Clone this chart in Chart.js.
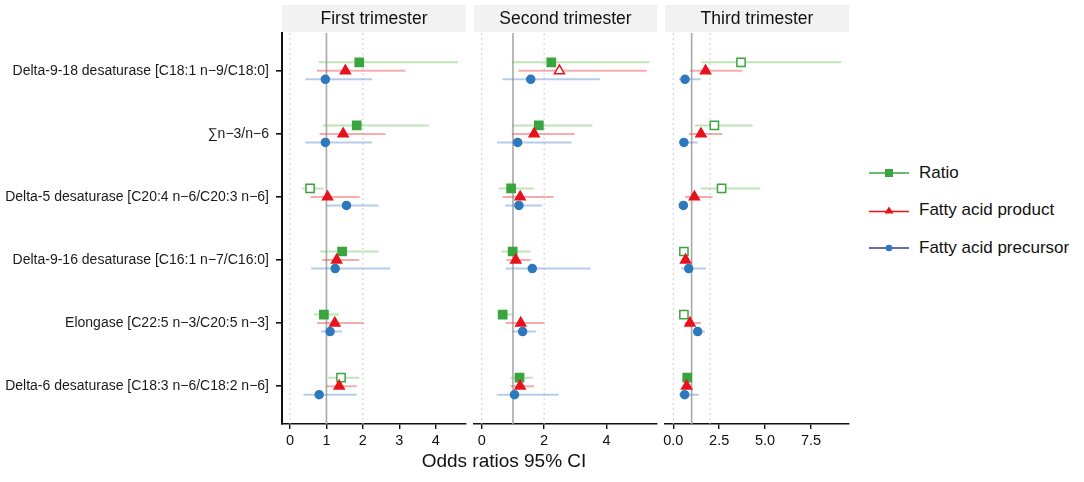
<!DOCTYPE html>
<html>
<head>
<meta charset="utf-8">
<script src="https://cdn.jsdelivr.net/npm/chart.js@4.4.1/dist/chart.umd.min.js"></script>
<style>
  body { margin: 0; background: #fff; font-family: "Liberation Sans", Arial, sans-serif; }
  #wrap { position: relative; width: 1084px; height: 482px; overflow: hidden; }
  .panel { position: absolute; top: 0; height: 460px; }
  #xtitle { position: absolute; left: 404px; width: 200px; top: 450px; text-align: center; font-size: 19px; color: #111; white-space: nowrap; }
  #legend { position: absolute; left: 868px; top: 154px; font-size: 17px; color: #111; }
  #legend .row { height: 37.5px; display: flex; align-items: center; }
  #legend svg { margin-right: 9px; }
</style>
</head>
<body>
<div id="wrap">
  <div class="panel" style="left:0;width:478px"><canvas id="p1"></canvas></div>
  <div class="panel" style="left:462px;width:207px"><canvas id="p2"></canvas></div>
  <div class="panel" style="left:653px;width:208px"><canvas id="p3"></canvas></div>
  <div id="xtitle">Odds ratios 95% CI</div>
  <div id="legend">
    <div class="row"><svg width="42" height="14"><line x1="1" y1="7" x2="41" y2="7" stroke="#3aa53f" stroke-width="1.6"/><rect x="17" y="3" width="8" height="8" fill="#3aa53f"/></svg>Ratio</div>
    <div class="row"><svg width="42" height="14"><line x1="1" y1="8.5" x2="41" y2="8.5" stroke="#e8121c" stroke-width="1.6"/><polygon points="21,3.5 25.5,10.5 16.5,10.5" fill="#e8121c"/></svg>Fatty acid product</div>
    <div class="row"><svg width="42" height="14"><line x1="1" y1="7" x2="41" y2="7" stroke="#2b3f99" stroke-width="1.6"/><circle cx="21" cy="7" r="3.3" fill="#2e78bd"/></svg>Fatty acid precursor</div>
  </div>
</div>
<script>
const categories = [
  'Delta-9-18 desaturase [C18:1 n\u22129/C18:0]',
  '\u2211n\u22123/n\u22126',
  'Delta-5 desaturase [C20:4 n\u22126/C20:3 n\u22126]',
  'Delta-9-16 desaturase [C16:1 n\u22127/C16:0]',
  'Elongase [C22:5 n\u22123/C20:5 n\u22123]',
  'Delta-6 desaturase [C18:3 n\u22126/C18:2 n\u22126]'
];
const trimesters = ['First trimester', 'Second trimester', 'Third trimester'];

// first trimester
const ratio1 = [1.90, 1.83, 0.55, 1.43, 0.93, 1.40];
const ratio1Lo = [0.79, 0.90, 0.33, 0.83, 0.65, 1.05];
const ratio1Hi = [4.61, 3.81, 0.92, 2.43, 1.34, 1.90];
const product1 = [1.52, 1.46, 1.03, 1.28, 1.23, 1.35];
const product1Lo = [0.74, 0.81, 0.56, 0.88, 0.74, 1.00];
const product1Hi = [3.17, 2.62, 1.91, 1.90, 2.02, 1.83];
const precursor1 = [0.97, 0.97, 1.55, 1.24, 1.10, 0.80];
const precursor1Lo = [0.42, 0.42, 1.00, 0.58, 0.85, 0.37];
const precursor1Hi = [2.25, 2.25, 2.43, 2.75, 1.43, 1.83];

// second trimester
const ratio2 = [2.23, 1.83, 0.94, 0.99, 0.67, 1.21];
const ratio2Lo = [0.96, 0.98, 0.55, 0.64, 0.53, 0.93];
const ratio2Hi = [5.37, 3.55, 1.67, 1.57, 0.99, 1.64];
const product2 = [2.49, 1.68, 1.23, 1.09, 1.25, 1.23];
const product2Lo = [1.17, 0.96, 0.67, 0.79, 0.77, 0.92];
const product2Hi = [5.29, 2.98, 2.30, 1.57, 2.01, 1.67];
const precursor2 = [1.57, 1.15, 1.19, 1.62, 1.31, 1.05];
const precursor2Lo = [0.66, 0.49, 0.75, 0.77, 0.99, 0.48];
const precursor2Hi = [3.79, 2.88, 1.93, 3.49, 1.73, 2.46];

// third trimester
const ratio3 = [3.69, 2.24, 2.63, 0.58, 0.58, 0.76];
const ratio3Lo = [1.51, 1.18, 1.49, 0.45, 0.45, 0.62];
const ratio3Hi = [9.14, 4.32, 4.74, 0.72, 0.70, 1.00];
const product3 = [1.76, 1.51, 1.15, 0.67, 0.91, 0.73];
const product3Lo = [0.91, 0.86, 0.64, 0.46, 0.62, 0.50];
const product3Hi = [3.76, 2.67, 2.13, 0.82, 1.51, 0.95];
const precursor3 = [0.64, 0.58, 0.55, 0.84, 1.33, 0.62];
const precursor3Lo = [0.31, 0.31, 0.42, 0.42, 1.15, 0.31];
const precursor3Hi = [1.49, 1.33, 0.72, 1.78, 1.73, 1.40];

// open (hollow) markers
const ratioOpen1 = [false, false, true, false, false, true];
const ratioOpen3 = [true, true, true, true, true, false];
const productOpen2 = [true, false, false, false, false, false];
const none = [false, false, false, false, false, false];

const yMin = -0.6, yMax = 5.6;
const FONT = '"Liberation Sans", Arial, sans-serif';

const stripPlugin = {
  id: 'strip',
  beforeDraw(chart, args, opts) {
    const { ctx, chartArea: a } = chart;
    ctx.save();
    ctx.fillStyle = '#f2f2f2';
    ctx.fillRect(a.left, 5, a.right - a.left, 27);
    ctx.fillStyle = '#111';
    ctx.font = '17.5px ' + FONT;
    ctx.textAlign = 'center';
    ctx.textBaseline = 'middle';
    ctx.fillText(opts.text, (a.left + a.right) / 2, 19.5);
    ctx.restore();
  }
};

function ciData(lo, hi, off) {
  const out = [];
  lo.forEach((v, i) => {
    out.push({ x: v, y: i + off }, { x: hi[i], y: i + off }, { x: null, y: null });
  });
  return out;
}

function refLine(x, dashed) {
  return {
    data: [{ x: x, y: yMin }, { x: x, y: yMax }],
    showLine: true, pointRadius: 0, order: 10,
    borderColor: dashed ? '#cfcfcf' : '#a8a8a8',
    borderWidth: dashed ? 1 : 1.6,
    borderDash: dashed ? [2, 3] : []
  };
}

function makePanel(id, idx, series, xr) {
  const datasets = [refLine(0, true), refLine(2, true), refLine(1, false)];
  series.forEach(s => {
    datasets.push({
      data: ciData(s.lo, s.hi, s.off), showLine: true, spanGaps: false,
      pointRadius: 0, borderColor: s.ci, borderWidth: 2, order: 5
    });
    datasets.push({
      data: s.or.map((v, i) => ({ x: v, y: i + s.off })),
      pointStyle: s.style, pointRadius: s.r, borderWidth: 1.5,
      pointBorderColor: s.color,
      pointBackgroundColor: s.open.map(o => o ? '#fff' : s.color),
      order: s.order
    });
  });
  const first = idx === 0;
  new Chart(document.getElementById(id), {
    type: 'scatter',
    data: { datasets },
    plugins: [stripPlugin],
    options: {
      responsive: true, maintainAspectRatio: false, animation: false,
      layout: { padding: { top: 33, left: first ? 0 : 12, right: 12, bottom: 0 } },
      plugins: { legend: { display: false }, tooltip: { enabled: false }, strip: { text: trimesters[idx] } },
      scales: {
        x: {
          type: 'linear', min: xr.min, max: xr.max,
          afterFit: s => { s.height = 36; },
          border: { color: '#111', width: 1.6 },
          grid: { drawOnChartArea: false, drawTicks: true, tickLength: 5, color: '#111', lineWidth: 1.4 },
          ticks: {
            stepSize: xr.step, includeBounds: false, color: '#111', padding: 3,
            font: { family: FONT, size: 14.5 },
            callback: v => xr.step === 2.5 ? v.toFixed(1) : String(v)
          }
        },
        y: {
          type: 'linear', min: yMin, max: yMax, reverse: true,
          display: first,
          afterFit: s => { if (first) s.width = 282; },
          border: { color: '#111', width: 2 },
          grid: { drawOnChartArea: false, drawTicks: true, tickLength: 6, color: '#111', lineWidth: 1.6 },
          ticks: {
            stepSize: 1, includeBounds: false, color: '#1a1a1a', padding: 7,
            font: { family: FONT, size: 14 },
            callback: v => Number.isInteger(v) ? categories[v] : ''
          }
        }
      }
    }
  });
}

const GREEN = '#3aa53f', RED = '#e8121c', BLUE = '#2e78bd';
const GREEN_CI = 'rgba(110,195,100,0.45)', RED_CI = 'rgba(235,70,75,0.45)', BLUE_CI = 'rgba(90,145,210,0.45)';

function seriesSet(r, rl, rh, ro, p, pl, ph, po, c, cl, ch) {
  return [
    { or: r, lo: rl, hi: rh, open: ro, off: -0.135, color: GREEN, ci: GREEN_CI, style: 'rect', r: 5.8, order: 3 },
    { or: p, lo: pl, hi: ph, open: po, off: 0, color: RED, ci: RED_CI, style: 'triangle', r: 5.8, order: 2 },
    { or: c, lo: cl, hi: ch, open: none, off: 0.135, color: BLUE, ci: BLUE_CI, style: 'circle', r: 4, order: 1 }
  ];
}

makePanel('p1', 0, seriesSet(ratio1, ratio1Lo, ratio1Hi, ratioOpen1, product1, product1Lo, product1Hi, none,
  precursor1, precursor1Lo, precursor1Hi), { min: -0.22, max: 4.83, step: 1 });
makePanel('p2', 1, seriesSet(ratio2, ratio2Lo, ratio2Hi, none, product2, product2Lo, product2Hi, productOpen2,
  precursor2, precursor2Lo, precursor2Hi), { min: -0.25, max: 5.62, step: 2 });
makePanel('p3', 2, seriesSet(ratio3, ratio3Lo, ratio3Hi, ratioOpen3, product3, product3Lo, product3Hi, none,
  precursor3, precursor3Lo, precursor3Hi), { min: -0.45, max: 9.57, step: 2.5 });
</script>
</body>
</html>
